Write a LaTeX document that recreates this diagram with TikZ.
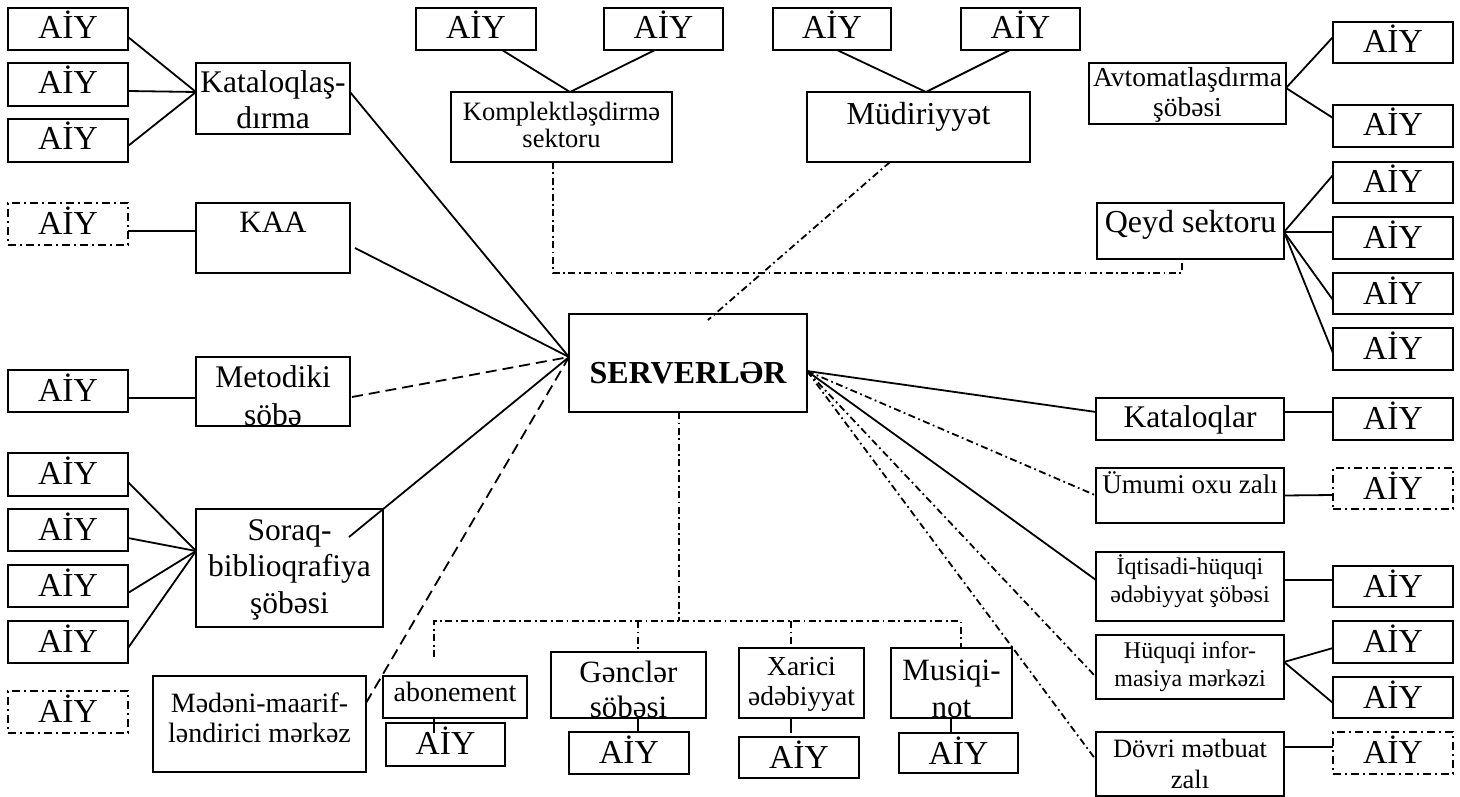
\documentclass[tikz,border=0pt]{standalone}
\usepackage{fontspec}
\setmainfont{Liberation Serif}
\usetikzlibrary{calc}

\tikzset{
  box/.style={draw, line width=2.1pt, inner sep=0pt, outer sep=0pt, rectangle},
  dbox/.style={box, dash pattern=on 8pt off 4pt on 2pt off 4pt},
  txt/.style={inner sep=0pt, anchor=base},
  ln/.style={line width=1.8pt},
  dl/.style={line width=1.8pt, dash pattern=on 11pt off 6pt},
  dd/.style={line width=1.8pt, dash pattern=on 7pt off 3.5pt on 1.8pt off 3.5pt},
}

% box: name, left, top, right, bottom (pixel grid, y downwards)
\newcommand\bx[6][box]{\node[#1, minimum width={#5-#3}, minimum height={#6-#4}] (#2) at ({(#3+#5)/2},{(#4+#6)/2}) {};}
% label clipped to its box: name, baseline offset from top, size, skip, lines
\newcommand\lb[5]{\begin{scope}\clip (#1.north west) rectangle (#1.south east);
  \node[txt, font=\fontsize{#3}{#4}\selectfont] (#1-t) at ($(#1.north)+(0,#2)$) {\begin{tabular}[t]{@{}c@{}}#5\end{tabular}};\end{scope}}
\newcommand\aiy[1]{\lb{#1}{31}{33.5}{36}{AİY}}

\begin{document}
\begin{tikzpicture}[x=1pt, y=-1pt]
\useasboundingbox (0,0) rectangle (1460,797);

% workstation boxes, left column
\bx{l1}{8}{8}{128}{50}
\bx{l2}{8}{63}{128}{106}
\bx{l3}{8}{119}{128}{162}
\bx[dbox]{l4}{8}{203}{128}{245}
\bx{l5}{8}{370}{128}{412}
\bx{l6}{8}{453}{128}{496}
\bx{l7}{8}{509}{128}{551}
\bx{l8}{8}{565}{128}{607}
\bx{l9}{8}{621}{128}{663}
\bx[dbox]{l10}{8}{691}{128}{733}
% top row
\bx{t1}{416}{8}{536}{50}
\bx{t2}{604}{8}{723}{50}
\bx{t3}{773}{8}{891}{50}
\bx{t4}{961}{8}{1080}{50}
% right column
\bx{r1}{1333}{22}{1453}{63}
\bx{r2}{1333}{105}{1453}{147}
\bx{r3}{1333}{162}{1453}{203}
\bx{r4}{1333}{217}{1453}{259}
\bx{r5}{1333}{273}{1453}{314}
\bx{r6}{1333}{328}{1453}{370}
\bx{r7}{1333}{398}{1453}{440}
\bx[dbox]{r8}{1333}{468}{1453}{509}
\bx{r9}{1333}{566}{1453}{607}
\bx{r10}{1333}{621}{1453}{663}
\bx{r11}{1333}{677}{1453}{718}
\bx[dbox]{r12}{1333}{732}{1453}{774}
% bottom row
\bx{b1}{386}{723}{505}{766}
\bx{b2}{569}{732}{689}{774}
\bx{b3}{739}{737}{859}{778}
\bx{b4}{899}{733}{1018}{773}

% departments
\bx{kat}{196}{63}{350}{134}
\bx{kaa}{196}{203}{350}{273}
\bx{met}{196}{357}{350}{426}
\bx{sor}{196}{509}{383}{627}
\bx{med}{153}{676}{366}{772}
\bx{kom}{451}{92}{672}{162}
\bx{mud}{807}{92}{1030}{162}
\bx{avt}{1089}{63}{1286}{124}
\bx{qey}{1097}{203}{1284}{259}
\bx{kal}{1096}{398}{1284}{440}
\bx{umu}{1096}{468}{1284}{523}
\bx{iqt}{1096}{552}{1284}{621}
\bx{huq}{1096}{635}{1284}{699}
\bx{dov}{1096}{732}{1284}{796}
\bx{abo}{383}{676}{527}{718}
\bx{gen}{551}{652}{706}{718}
\bx{xar}{739}{648}{864}{718}
\bx{mus}{891}{648}{1012}{718}
\bx{ser}{569}{314}{807}{412}

% labels
\foreach \n in {l1,l2,l3,l4,l5,l6,l7,l8,l9,l10,t1,t2,t3,t4,r1,r2,r3,r4,r5,r6,r7,r8,r9,r10,r11,r12,b1,b2,b3,b4}{\aiy{\n}}
\lb{kat}{30}{31.5}{36}{Kataloqlaş-\\dırma}
\lb{kaa}{30}{31}{36}{KAA}
\lb{met}{30}{31.5}{38}{Metodiki\\söbə}
\lb{sor}{31}{31.5}{36.5}{Soraq-\\biblioqrafiya\\şöbəsi}
\lb{med}{36}{28}{30}{Mədəni-maarif-\\ləndirici mərkəz}
\lb{kom}{29}{26.5}{27}{Komplektləşdirmə\\sektoru}
\lb{mud}{33}{32}{36}{Müdiriyyət}
\lb{avt}{24}{27.5}{30}{Avtomatlaşdırma\\şöbəsi}
\lb{qey}{30}{32}{36}{Qeyd sektoru}
\lb{kal}{29}{31.5}{36}{Kataloqlar}
\lb{umu}{25}{27}{30}{Ümumi oxu zalı}
\lb{iqt}{22}{24}{28}{İqtisadi-hüquqi\\ədəbiyyat şöbəsi}
\lb{huq}{23}{24}{28}{Hüquqi infor-\\masiya mərkəzi}
\lb{dov}{25}{26.5}{31}{Dövri mətbuat\\zalı}
\lb{abo}{25}{28}{30}{abonement}
\lb{gen}{30}{31}{35}{Gənclər\\söbəsi}
\lb{xar}{27}{27.5}{30}{Xarici\\ədəbiyyat}
\lb{mus}{32}{31}{37}{Musiqi-\\not}
\lb{ser}{69}{32}{36}{\bfseries SERVERLƏR}

% left side connectors
\draw[ln] ($(l1.east)+(0,8)$) -- ($(kat.west)+(0,-6.5)$);
\draw[ln] ($(l2.east)+(0,6.5)$) -- ($(kat.west)+(0,-6.5)$);
\draw[ln] ($(l3.east)+(0,5.5)$) -- ($(kat.west)+(0,-6.5)$);
\draw[ln] ($(kat.east)+(0,-6.5)$) -- ($(ser.west)+(0,-6)$);
\draw[ln] ($(l4.east)+(0,7)$) -- ($(kaa.west)+(0,-7)$);
\draw[ln] ($(kaa.east)+(5,10)$) -- ($(ser.west)+(0,-6)$);
\draw[ln] ($(l5.east)+(0,7)$) -- ($(met.west)+(0,6.5)$);
\draw[dl] ($(met.east)+(2,5.5)$) -- ($(ser.west)+(0,-6)$);
\draw[ln] ($(l6.east)+(0,7.5)$) -- ($(sor.west)+(0,-17)$);
\draw[ln] ($(l7.east)+(0,8)$) -- ($(sor.west)+(0,-17)$);
\draw[ln] ($(l8.east)+(0,7)$) -- ($(sor.west)+(0,-17)$);
\draw[ln] ($(l9.east)+(0,6)$) -- ($(sor.west)+(0,-17)$);
\draw[ln] ($(sor.center)+(59.5,-31)$) -- ($(ser.west)+(0,-6)$);
\draw[dl] ($(med.east)+(0,-21)$) -- ($(ser.west)+(0,-6)$);

% top connectors
\draw[ln] ($(t1.south)+(26,0)$) -- ($(kom.north)+(8.5,0)$);
\draw[ln] ($(t2.south)+(-8.5,0)$) -- ($(kom.north)+(8.5,0)$);
\draw[ln] ($(t3.south)+(5,0)$) -- ($(mud.north)+(7.5,0)$);
\draw[ln] ($(t4.south)+(-10.5,0)$) -- ($(mud.north)+(7.5,0)$);
\draw[dd] ($(mud.south)+(-28.5,0)$) -- ($(ser.north)+(20,6)$);
\draw[dd] ($(kom.south)+(-8.5,0)$) -- ($(kom.south)+(-8.5,111)$) -| ($(qey.south)+(-8.5,0)$);

% right side connectors
\draw[ln] ($(avt.east)+(0,-5.5)$) -- ($(r1.west)+(0,-5.5)$);
\draw[ln] ($(avt.east)+(0,-5.5)$) -- ($(r2.west)+(0,-8)$);
\draw[ln] ($(qey.east)+(0,1)$) -- ($(r3.west)+(0,-7.5)$);
\draw[ln] ($(qey.east)+(0,1)$) -- ($(r4.west)+(0,-6)$);
\draw[ln] ($(qey.east)+(0,1)$) -- ($(r5.west)+(0,6.5)$);
\draw[ln] ($(qey.east)+(0,1)$) -- ($(r6.west)+(0,4)$);
\draw[ln] ($(ser.east)+(0,8)$) -- ($(kal.west)+(0,-7)$);
\draw[ln] ($(kal.east)+(0,-7)$) -- ($(r7.west)+(0,-7)$);
\draw[dd] ($(ser.east)+(0,8)$) -- (umu.west);
\draw[ln] (umu.east) -- ($(r8.west)+(0,6.5)$);
\draw[ln] ($(ser.east)+(0,8)$) -- ($(iqt.west)+(0,-6.5)$);
\draw[ln] ($(iqt.east)+(0,-6.5)$) -- ($(r9.west)+(0,-6.5)$);
\draw[dd] ($(ser.east)+(0,8)$) -- ($(huq.west)+(0,10)$);
\draw[ln] ($(huq.east)+(0,-5)$) -- ($(r10.west)+(0,6)$);
\draw[ln] ($(huq.east)+(0,-5)$) -- ($(r11.west)+(0,5.5)$);
\draw[dd] ($(ser.east)+(0,8)$) -- ($(dov.west)+(0,-4)$);
\draw[ln] ($(dov.east)+(0,-17)$) -- ($(r12.west)+(0,-6)$);

% bottom bus
\coordinate (abx) at (434,657);
\draw[dd] ($(ser.south)+(-9,0)$) -- ($(ser.south)+(-9,209)$);
\draw[dd] (abx) |- ($(mus.north)+(9.5,-27)$) -- ($(mus.north)+(9.5,0)$);
\draw[dd] ($(gen.north)+(9.5,-31)$) -- ($(gen.north)+(9.5,0)$);
\draw[dd] ($(xar.north)+(-10.5,-27)$) -- ($(xar.north)+(-10.5,0)$);
\draw[ln] ($(abo.south)+(-21,0)$) -- ($(b1.north)+(-11.5,10)$);
\draw[ln] ($(gen.south)+(9.5,0)$) -- ($(b2.north)+(9,0)$);
\draw[ln] ($(xar.south)+(-10.5,0)$) -- ($(b3.north)+(-8,-4)$);
\draw[ln] ($(mus.south)+(-0.5,0)$) -- ($(b4.north)+(-7.5,0)$);
\end{tikzpicture}
\end{document}
